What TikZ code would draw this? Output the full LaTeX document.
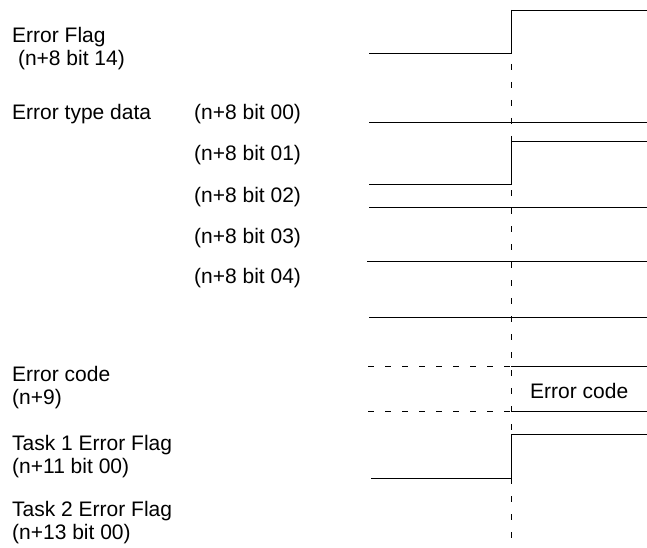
\documentclass[tikz,border=0pt]{standalone}
\usepackage{fontspec}
\setmainfont{Liberation Sans}
\begin{document}
\begin{tikzpicture}[x=1pt,y=-1pt,
  lbl/.style={anchor=base west,inner sep=0pt,font=\fontsize{21}{25}\selectfont},
  wave/.style={line width=0.9pt,black},
  tdash/.style={line width=0.9pt,dash pattern=on 6pt off 12pt},
  hdash/.style={line width=0.9pt,dash pattern=on 6pt off 11pt}]
\useasboundingbox (0,0) rectangle (647,548);
% labels
\node[lbl] (ef) at (12,42.5) {Error Flag};
\node[lbl] (ef2) at (12,65.6) {\ (n+8 bit 14)};
\node[lbl] (etd) at (12,119.5) {Error type data};
\node[lbl] (b00) at (194,119.5) {(n+8 bit 00)};
\node[lbl] (b01) at (194,160.6) {(n+8 bit 01)};
\node[lbl] (b02) at (194,202.3) {(n+8 bit 02)};
\node[lbl] (b03) at (194,243.3) {(n+8 bit 03)};
\node[lbl] (b04) at (194,283.7) {(n+8 bit 04)};
\node[lbl] (ec) at (12,381) {Error code};
\node[lbl] (ec2) at (12,404.7) {(n+9)};
\node[lbl] (t1) at (12,450) {Task 1 Error Flag};
\node[lbl] (t1b) at (12,473) {(n+11 bit 00)};
\node[lbl] (t2) at (12,516.7) {Task 2 Error Flag};
\node[lbl] (t2b) at (12,539.7) {(n+13 bit 00)};
\node[lbl] (ecv) at (530,398.3) {Error code};
% time marker
\coordinate (mt) at (511,10);
\coordinate (mb) at (511,547);
\draw[tdash] (mt) -- (mb);
% Error Flag
\draw[wave] (369,53.5) -- (511,53.5) -- (511,10) -- (647,10);
% bit 00
\draw[wave] (369,122) -- (647,122);
% bit 01
\draw[wave] (369,184) -- (511,184) -- (511,141) -- (647,141);
% bit 02
\draw[wave] (369,207) -- (647,207);
% bit 03
\draw[wave] (367,261) -- (647,261);
% bit 04
\draw[wave] (369,317) -- (647,317);
% Error code
\draw[hdash] (368,366) -- (511,366);
\draw[wave] (511,366) -- (647,366);
\draw[hdash] (368,411) -- (511,411);
\draw[wave] (511,411) -- (647,411);
% Task 1
\draw[wave] (371,478) -- (511,478) -- (511,434) -- (647,434);
\end{tikzpicture}
\end{document}
